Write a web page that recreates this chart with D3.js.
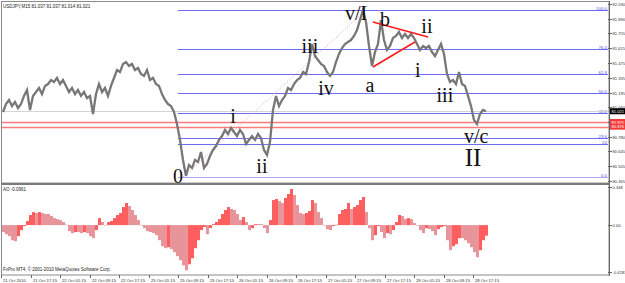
<!DOCTYPE html>
<html><head><meta charset="utf-8">
<script src="https://cdn.jsdelivr.net/npm/d3@7"></script>
<style>body{margin:0;background:#fff;} svg{display:block;}</style>
</head><body><svg id="c" width="625" height="283"></svg>
<script>
// ---- data ----
const closes = [
81.014,81.089,81.127,81.070,81.108,81.052,81.089,81.165,81.221,81.033,
81.165,81.202,81.240,81.183,81.259,81.277,81.315,81.296,81.334,81.277,
81.315,81.259,81.202,81.240,81.183,81.221,81.165,81.202,81.146,81.165,
80.995,81.183,81.277,81.202,81.240,81.165,81.259,81.334,81.409,81.390,
81.466,81.484,81.447,81.466,81.409,81.428,81.371,81.353,81.409,81.315,
81.334,81.277,81.259,81.183,81.127,81.089,81.070,81.014,80.901,80.751,
80.563,80.412,80.515,80.487,80.563,80.544,80.638,80.487,80.525,80.600,
80.657,80.694,80.751,80.788,80.845,80.807,80.864,80.826,80.788,80.845,
80.807,80.713,80.751,80.788,80.751,80.807,80.770,80.657,80.610,80.732,
81.033,81.165,81.070,81.127,81.165,81.240,81.221,81.277,81.315,81.334,
81.390,81.371,81.484,81.654,81.541,81.503,81.466,81.447,81.390,81.353,
81.390,81.484,81.560,81.616,81.654,81.673,81.691,81.729,81.785,81.879,
81.974,81.861,81.635,81.447,81.578,81.654,81.879,81.691,81.597,81.635,
81.710,81.729,81.767,81.710,81.748,81.710,81.748,81.710,81.654,81.597,
81.635,81.616,81.635,81.578,81.541,81.597,81.654,81.560,81.371,81.296,
81.315,81.277,81.390,81.277,81.259,81.165,81.070,80.939,80.901,80.995,
81.033,81.021];
const aoValues = [
-0.064,-0.083,-0.101,-0.138,-0.147,-0.101,-0.046,-0.009,0.037,0.092,
0.119,0.110,0.119,0.110,0.101,0.101,0.083,0.064,0.055,0.046,
0.028,0.004,-0.055,-0.073,-0.064,-0.064,-0.073,-0.064,-0.073,-0.101,
-0.119,-0.046,0.064,0.028,0.002,0.028,0.037,0.064,0.092,0.110,
0.165,0.202,0.174,0.138,0.092,0.046,-0.003,-0.028,-0.055,-0.064,
-0.073,-0.092,-0.138,-0.193,-0.211,-0.202,-0.220,-0.248,-0.284,-0.321,
-0.367,-0.413,-0.358,-0.303,-0.211,-0.138,-0.046,-0.018,-0.083,-0.028,
0.009,0.028,0.055,0.101,0.138,0.165,0.147,0.138,0.101,0.046,
0.073,0.028,-0.046,-0.028,0.009,0.009,0.009,-0.028,-0.073,0.046,
0.229,0.239,0.220,0.202,0.248,0.284,0.330,0.275,0.183,0.110,
0.101,0.110,0.128,0.229,0.202,0.119,0.064,-0.004,-0.037,-0.046,
-0.009,0.003,0.101,0.138,0.147,0.202,0.147,0.165,0.183,0.229,
0.257,0.119,-0.028,-0.138,-0.092,-0.009,-0.064,-0.119,-0.073,-0.083,
-0.046,0.028,0.092,0.083,0.055,0.064,0.055,0.018,-0.002,-0.046,
-0.073,-0.028,-0.037,-0.055,-0.092,-0.037,-0.018,-0.009,-0.138,-0.229,
-0.193,-0.174,-0.119,-0.119,-0.138,-0.165,-0.202,-0.248,-0.294,-0.229,
-0.138,-0.096];
const priceTicks = [82.030,81.890,81.755,81.615,81.475,81.335,81.195,81.060,80.920,80.780,80.645,80.505,80.365];
const timeLabels = ["21 Oct 2010","21 Oct 17:15","22 Oct 01:15","22 Oct 09:15","22 Oct 17:15","25 Oct 01:15","25 Oct 09:15","25 Oct 17:15","26 Oct 01:15","26 Oct 09:15","26 Oct 17:15","27 Oct 01:15","27 Oct 09:15","27 Oct 17:15","28 Oct 01:15","28 Oct 09:15","28 Oct 17:15"];
const fibLevels = [100.0, 76.4, 61.8, 50.0, 38.2, 23.6, 20, 0.0];
const fibNames = ["100.0","76.4","61.8","50.0","38.2","23.6","20","0.0"];
const fibLow = 80.403, fibHigh = 81.974, fibStartIdx = 58.3;
const hLines = [80.920, 80.876];
const bidPrice = 81.021;
const aoTicks = [0.348, 0.00, -0.4283];
const aoTickNames = ["0.348","0.00","-0.4283"];
const waveLabels = [
 {t:"0",i:58.3,p:80.346},{t:"i",i:76.7,p:80.911},{t:"ii",i:86.3,p:80.440},
 {t:"iii",i:102.3,p:81.569},{t:"iv",i:107.7,p:81.174},{t:"v/I",i:117.7,p:81.879},
 {t:"a",i:122.3,p:81.202},{t:"b",i:127.3,p:81.823},{t:"ii",i:141.3,p:81.757},
 {t:"i",i:138.3,p:81.343},{t:"iii",i:147.3,p:81.108},{t:"v/c",i:157.7,p:80.722},
 {t:"II",i:156.7,p:80.505,big:true}];
const triUpper = [[123.3,81.861],[141.7,81.720]];
const triLower = [[123.3,81.437],[137.3,81.672]];
const trendDots = [[60,80.403],[119.3,81.927]];

// ---- scales ----
const svg = d3.select("#c");
const x = d3.scaleLinear().domain([0, closes.length-1]).range([3, 486]);
const y = d3.scaleLinear().domain([80.365, 82.030]).range([181, 4]);
const tx = d3.scaleLinear().domain([0, timeLabels.length-1]).range([1, 473]);
const ya = d3.scaleLinear().domain([-0.4283, 0.348]).range([272, 187]);
const R = 609;
const small = "Liberation Sans, Arial, sans-serif";

svg.append("rect").attr("width",625).attr("height",283).attr("fill","#fff");

// fib lines
const fibPrice = l => fibLow + (fibHigh - fibLow) * l / 100;
fibLevels.forEach((l, j) => {
  const yy = Math.round(y(fibPrice(l))) + 0.5;
  svg.append("line").attr("x1", x(fibStartIdx)).attr("x2", R-1).attr("y1", yy).attr("y2", yy)
    .attr("stroke", l === 0 ? "#a9a9f2" : "#6c6cf0").attr("stroke-width", 1.2);
  svg.append("text").attr("x", R-2).attr("y", yy-1).attr("text-anchor","end")
    .attr("font-family", small).attr("font-size", 4.4).attr("fill","#5555dd").text(fibNames[j]);
});
// red horizontal lines
hLines.forEach(p => {
  const yy = Math.round(y(p)) + 0.5;
  svg.append("line").attr("x1", 2).attr("x2", R).attr("y1", yy).attr("y2", yy)
    .attr("stroke", "#ff7b7b").attr("stroke-width", 1.4);
});
// bid line
{ const yy = Math.round(y(bidPrice)) + 0.5;
  svg.append("line").attr("x1", 2).attr("x2", R).attr("y1", yy).attr("y2", yy)
    .attr("stroke", "#d4d4d4").attr("stroke-width", 1); }
// trend dotted
svg.append("line").attr("x1", x(trendDots[0][0])).attr("y1", y(trendDots[0][1]))
  .attr("x2", x(trendDots[1][0])).attr("y2", y(trendDots[1][1]))
  .attr("stroke", "#ff9a9a").attr("stroke-width", 1).attr("stroke-dasharray","1,2");

// price
svg.append("path").datum(closes)
  .attr("d", d3.line().x((d,i)=>x(i)).y(d=>y(d)))
  .attr("fill","none").attr("stroke","#777").attr("stroke-width",2.3).attr("stroke-linejoin","miter");

// triangle
[triUpper, triLower].forEach(seg => {
  svg.append("line").attr("x1", x(seg[0][0])).attr("y1", y(seg[0][1]))
    .attr("x2", x(seg[1][0])).attr("y2", y(seg[1][1]))
    .attr("stroke", "#ff1a1a").attr("stroke-width", 1.6);
});

// wave labels
waveLabels.forEach(w => {
  svg.append("text").attr("x", x(w.i)).attr("y", y(w.p)).attr("text-anchor","middle")
    .attr("font-family","Liberation Serif, Times New Roman, serif")
    .attr("font-size", w.big ? 25 : 20).attr("fill","#111").text(w.t);
});

// header
svg.append("text").attr("x",3).attr("y",7.5).attr("font-family",small).attr("font-size",4.5)
  .attr("fill","#222").text("USDJPY,M15  81.037 81.037 81.014 81.021");

// AO bars
aoValues.forEach((v, i) => {
  const up = i === 0 ? false : v > aoValues[i-1];
  const y0 = ya(0), y1 = ya(v);
  svg.append("rect").attr("x", x(i)-1).attr("width", 3)
    .attr("y", Math.min(y0,y1)).attr("height", Math.max(0.5, Math.abs(y1-y0)))
    .attr("fill", up ? "#ff5e5e" : "#e8949b");
});
svg.append("text").attr("x",3).attr("y",190.5).attr("font-family",small).attr("font-size",4.5)
  .attr("fill","#222").text("AO -0.0961");
svg.append("text").attr("x",3).attr("y",271).attr("font-family",small).attr("font-size",4.5)
  .attr("fill","#222").text("FxPro MT4, © 2001-2010 MetaQuotes Software Corp.");

// frames
svg.append("rect").attr("x",1.5).attr("y",1.5).attr("width",R-1.5).attr("height",273.5)
  .attr("fill","none").attr("stroke","#8a8a8a").attr("stroke-width",1);
svg.append("rect").attr("x",1).attr("y",182.6).attr("width",R).attr("height",2.4).attr("fill","#7a7a7a");
svg.append("line").attr("x1",R+0.5).attr("x2",R+0.5).attr("y1",1).attr("y2",276).attr("stroke","#666");

// price axis
priceTicks.forEach(p => {
  const yy = Math.round(y(p)) + 0.5;
  svg.append("line").attr("x1",R-1).attr("x2",R+3).attr("y1",yy).attr("y2",yy).attr("stroke","#666");
  svg.append("text").attr("x",R+3.6).attr("y",yy+1.5).attr("font-family",small).attr("font-size",4.1)
    .attr("fill","#333").text(p.toFixed(3));
});
// AO axis
aoTicks.forEach((v,j) => {
  const yy = Math.round(ya(v)) + 0.5;
  svg.append("line").attr("x1",R-1).attr("x2",R+3).attr("y1",yy).attr("y2",yy).attr("stroke","#666");
  svg.append("text").attr("x",R+3.6).attr("y",yy+1.5).attr("font-family",small).attr("font-size",4.1)
    .attr("fill","#333").text(aoTickNames[j]);
});
// price boxes
function box(p, fill, label) {
  const yy = y(p);
  svg.append("rect").attr("x",R+1).attr("y",yy-3).attr("width",625-R-1).attr("height",6).attr("fill",fill);
  svg.append("text").attr("x",R+2.5).attr("y",yy+1.5).attr("font-family",small).attr("font-size",4.1)
    .attr("fill","#fff").text(label);
}
hLines.forEach(p => box(p, "#f23a3a", p.toFixed(3)));
box(bidPrice, "#000", bidPrice.toFixed(3));

// time axis
timeLabels.forEach((t,i) => {
  const xx = Math.round(tx(i)) + 0.5;
  svg.append("line").attr("x1",xx).attr("x2",xx).attr("y1",275).attr("y2",278).attr("stroke","#666");
  svg.append("text").attr("x",xx+1.5).attr("y",281.5).attr("font-family",small).attr("font-size",4.2)
    .attr("fill","#333").text(t);
});
</script></body></html>
